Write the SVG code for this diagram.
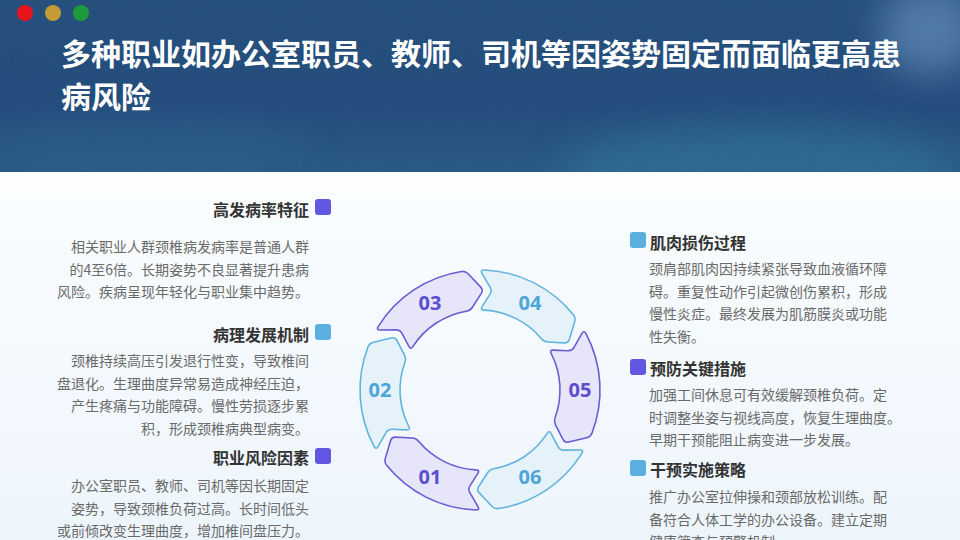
<svg xmlns="http://www.w3.org/2000/svg" width="960" height="540" viewBox="0 0 960 540">
<defs>
<linearGradient id="hdr" x1="0" y1="0" x2="0" y2="1">
<stop offset="0" stop-color="#1f4b78"/>
<stop offset="0.6" stop-color="#1d4778"/>
<stop offset="1" stop-color="#23557f"/>
</linearGradient>
<linearGradient id="body" x1="0" y1="0" x2="0" y2="1">
<stop offset="0" stop-color="#fbfdff"/>
<stop offset="1" stop-color="#edf5fc"/>
</linearGradient>
<filter id="blur" x="-50%" y="-50%" width="200%" height="200%"><feGaussianBlur stdDeviation="18"/></filter>
<filter id="noise"><feTurbulence type="fractalNoise" baseFrequency="0.9" numOctaves="2" seed="3"/><feColorMatrix type="matrix" values="0 0 0 0 1  0 0 0 0 1  0 0 0 0 1  0 0 0 0.06 0"/></filter>
<clipPath id="hclip"><rect x="0" y="0" width="960" height="172"/></clipPath>
<path id="seg" d="M585.86,333.49 A120,120 0 0 1 591.96,433.18 Q590.46,436.89 586.57,437.81 L568.69,442.07 Q564.8,442.99 562.97,439.43 L555.47,424.82 Q553.64,421.26 555.11,417.54 A80,80 0 0 0 551.19,353.51 Q549.28,350 553.28,350.16 L568.05,350.77 Q572.05,350.93 574.02,347.45 L581.95,333.48 Q583.92,330 585.86,333.49 Z"/>
</defs>
<style>
.title{font-family:"Noto Sans CJK SC","Noto Sans",sans-serif;font-weight:700;font-size:30px;fill:#ffffff}
.h{font-family:"Noto Sans CJK SC","Noto Sans",sans-serif;font-weight:700;font-size:16px;fill:#333333}
.b{font-family:"Noto Sans CJK SC","Noto Sans",sans-serif;font-size:14px;fill:#6a6a6a}
.l{text-anchor:end}
.segP{fill:#e7e5fa;stroke:#6b5bd4;stroke-width:1.6;stroke-linejoin:round}
.segB{fill:#e5f2fa;stroke:#62b3dd;stroke-width:1.6;stroke-linejoin:round}
.num{font-family:"Noto Sans","Open Sans",sans-serif;font-weight:700;font-size:20px;text-anchor:middle}
.nP{fill:#5b4fcf}
.nB{fill:#4ea5d8}
.icP{fill:#6257e0}
.icB{fill:#5aafe0}
</style>

<rect x="0" y="172" width="960" height="368" fill="url(#body)"/>

<g id="header" clip-path="url(#hclip)">
<rect x="0" y="0" width="960" height="172" fill="url(#hdr)"/>
<ellipse cx="930" cy="30" rx="50" ry="45" fill="#6f9bc8" opacity="0.55" filter="url(#blur)"/>
<ellipse cx="760" cy="170" rx="200" ry="45" fill="#2f6f96" opacity="0.6" filter="url(#blur)"/>
<ellipse cx="150" cy="150" rx="160" ry="30" fill="#2a5f8c" opacity="0.4" filter="url(#blur)"/>
<rect x="0" y="0" width="960" height="172" filter="url(#noise)"/>
<circle cx="25" cy="13" r="8" fill="#e8141c"/>
<circle cx="53" cy="13" r="8" fill="#c49b35"/>
<circle cx="81" cy="13" r="8" fill="#1e9a3a"/>
<text class="title" x="61" y="65">多种职业如办公室职员、教师、司机等因姿势固定而面临更高患</text>
<text class="title" x="61" y="108">病风险</text>
</g>

<g id="connectors"></g>

<g id="cycle">
<g id="seg03"><use href="#seg" class="segP" transform="rotate(-120 480 390)"/><text class="num nP" x="430" y="310.4">03</text></g>
<g id="seg04"><use href="#seg" class="segB" transform="rotate(-60 480 390)"/><text class="num nB" x="530" y="310.4">04</text></g>
<g id="seg05"><use href="#seg" class="segP"/><text class="num nP" x="580" y="397">05</text></g>
<g id="seg06"><use href="#seg" class="segB" transform="rotate(60 480 390)"/><text class="num nB" x="530" y="483.6">06</text></g>
<g id="seg01"><use href="#seg" class="segP" transform="rotate(120 480 390)"/><text class="num nP" x="430" y="483.6">01</text></g>
<g id="seg02"><use href="#seg" class="segB" transform="rotate(180 480 390)"/><text class="num nB" x="380" y="397">02</text></g>
</g>

<g id="node-gaofa">
<rect class="icP" x="315" y="199" width="16" height="16" rx="3"/>
<text class="h l" x="309" y="216">高发病率特征</text>
<text class="b l" x="309" y="252">相关职业人群颈椎病发病率是普通人群</text>
<text class="b l" x="309" y="274.5">的4至6倍。长期姿势不良显著提升患病</text>
<text class="b l" x="309" y="297">风险。疾病呈现年轻化与职业集中趋势。</text>
</g>

<g id="node-bingli">
<rect class="icB" x="315" y="324" width="16" height="16" rx="3"/>
<text class="h l" x="309" y="341">病理发展机制</text>
<text class="b l" x="309" y="366">颈椎持续高压引发退行性变，导致椎间</text>
<text class="b l" x="309" y="388.5">盘退化。生理曲度异常易造成神经压迫，</text>
<text class="b l" x="309" y="411">产生疼痛与功能障碍。慢性劳损逐步累</text>
<text class="b l" x="309" y="433.5">积，形成颈椎病典型病变。</text>
</g>

<g id="node-zhiye">
<rect class="icP" x="315" y="448" width="16" height="16" rx="3"/>
<text class="h l" x="309" y="464">职业风险因素</text>
<text class="b l" x="309" y="491">办公室职员、教师、司机等因长期固定</text>
<text class="b l" x="309" y="513.5">姿势，导致颈椎负荷过高。长时间低头</text>
<text class="b l" x="309" y="536">或前倾改变生理曲度，增加椎间盘压力。</text>
</g>

<g id="node-jirou">
<rect class="icB" x="630" y="232" width="16" height="16" rx="3"/>
<text class="h" x="650" y="249">肌肉损伤过程</text>
<text class="b" x="649" y="274">颈肩部肌肉因持续紧张导致血液循环障</text>
<text class="b" x="649" y="296.5">碍。重复性动作引起微创伤累积，形成</text>
<text class="b" x="649" y="319">慢性炎症。最终发展为肌筋膜炎或功能</text>
<text class="b" x="649" y="341.5">性失衡。</text>
</g>

<g id="node-yufang">
<rect class="icP" x="630" y="359" width="16" height="16" rx="3"/>
<text class="h" x="650" y="375">预防关键措施</text>
<text class="b" x="649" y="400">加强工间休息可有效缓解颈椎负荷。定</text>
<text class="b" x="649" y="422.5">时调整坐姿与视线高度，恢复生理曲度。</text>
<text class="b" x="649" y="445">早期干预能阻止病变进一步发展。</text>
</g>

<g id="node-ganyu">
<rect class="icB" x="630" y="460" width="16" height="16" rx="3"/>
<text class="h" x="650" y="476">干预实施策略</text>
<text class="b" x="649" y="502">推广办公室拉伸操和颈部放松训练。配</text>
<text class="b" x="649" y="524.5">备符合人体工学的办公设备。建立定期</text>
<text class="b" x="649" y="547">健康筛查与预警机制</text>
</g>
</svg>
